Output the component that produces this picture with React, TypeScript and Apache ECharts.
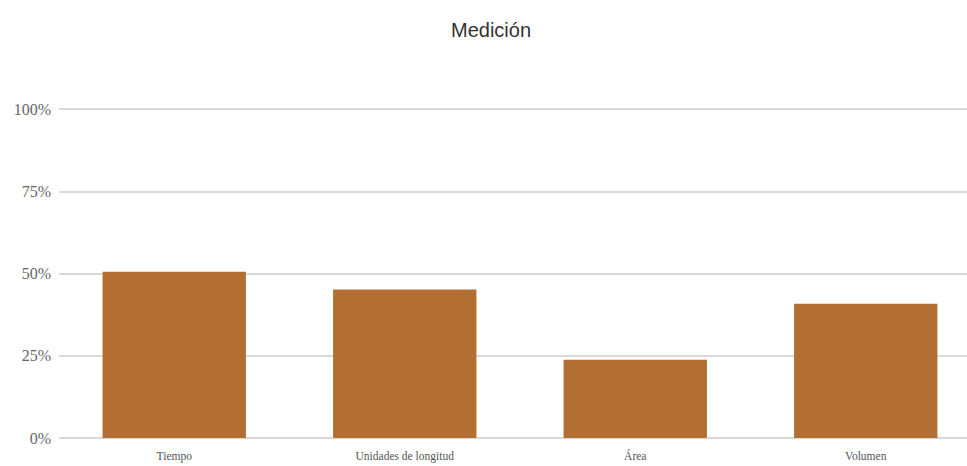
import React, { useEffect, useRef } from "react";
import * as echarts from "echarts";

const categories = ["Tiempo", "Unidades de longitud", "Área", "Volumen"];
const values = [50.5, 45.1, 23.8, 40.8];
const yTicks = [0, 25, 50, 75, 100];
const titleText = "Medición";

export default function App() {
  const ref = useRef<HTMLDivElement>(null);
  useEffect(() => {
    if (!ref.current) return;
    const chart = echarts.init(ref.current, null, { renderer: "svg" });
    chart.setOption({
      animation: false,
      backgroundColor: "#ffffff",
      title: {
        text: titleText,
        left: 446,
        top: 15,
        textStyle: {
          fontFamily: "Liberation Sans, Arial, sans-serif",
          fontSize: 20,
          fontWeight: "normal",
          color: "#333",
        },
      },
      grid: { left: 59, top: 109, width: 922, bottom: 28, containLabel: false },
      xAxis: {
        type: "category",
        data: categories,
        axisLine: { show: false },
        axisTick: { show: false },
        axisLabel: {
          margin: 12,
          fontFamily: "Liberation Serif, Times New Roman, serif",
          fontSize: 11.5,
          color: "#555",
        },
      },
      yAxis: {
        type: "value",
        min: yTicks[0],
        max: yTicks[yTicks.length - 1],
        interval: 25,
        axisLine: { show: false },
        axisTick: { show: false },
        axisLabel: {
          formatter: "{value}%",
          margin: 8,
          fontFamily: "Liberation Serif, Times New Roman, serif",
          fontSize: 16,
          color: "#666",
        },
        splitLine: { lineStyle: { color: "#cccccc", width: 1.5 } },
      },
      series: [
        {
          type: "bar",
          data: values,
          barCategoryGap: "37.8%",
          itemStyle: { color: "#B36F31" },
        },
      ],
    });
    return () => chart.dispose();
  }, []);
  return (
    <div
      style={{
        position: "fixed",
        left: 0,
        top: 0,
        width: 967,
        height: 466,
        overflow: "hidden",
      }}
    >
      <div ref={ref} style={{ width: 992, height: 466 }} />
    </div>
  );
}
